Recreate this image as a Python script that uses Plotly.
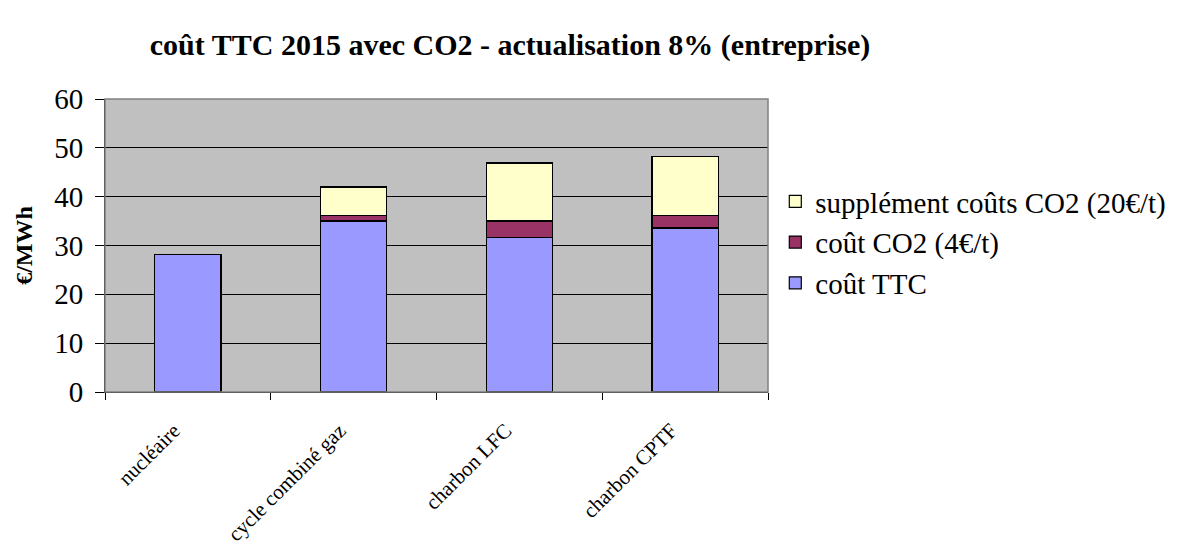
import plotly.graph_objects as go

categories = ["nucléaire", "cycle combiné gaz", "charbon LFC", "charbon CPTF"]
cout_ttc = [28.2, 35.0, 31.7, 33.6]
cout_co2 = [0.0, 1.2, 3.3, 2.6]
supplement_co2 = [0.0, 5.8, 11.9, 12.0]
y_ticks = [0, 10, 20, 30, 40, 50, 60]

series = [
    ("coût TTC", cout_ttc, "#9999FF", 3),
    ("coût CO2 (4€/t)", cout_co2, "#993366", 2),
    ("supplément coûts CO2 (20€/t)", supplement_co2, "#FFFFCC", 1),
]

fig = go.Figure()
for name, vals, color, rank in series:
    fig.add_trace(go.Bar(
        x=categories, y=vals, name=name, legendrank=rank,
        marker=dict(color=color, line=dict(color="black", width=1.2)),
    ))

font_family = "Liberation Serif, Times New Roman, serif"
fig.update_layout(
    barmode="stack",
    bargap=0.6,
    width=1201, height=550,
    paper_bgcolor="white",
    plot_bgcolor="#C0C0C0",
    margin=dict(l=97, r=441, t=91, b=166, autoexpand=False),
    font=dict(family=font_family, color="black"),
    title=dict(
        text="<b>coût TTC 2015 avec CO2 - actualisation 8% (entreprise)</b>",
        x=502 / 1201, xanchor="center", y=1 - 36 / 550, yanchor="middle",
        font=dict(size=30, family=font_family, color="black"),
    ),
    legend=dict(
        x=1.011, xanchor="left", y=0.51, yanchor="middle",
        font=dict(size=29, family=font_family, color="black"),
        traceorder="normal",
        bgcolor="rgba(0,0,0,0)",
    ),
    showlegend=True,
)
fig.update_yaxes(
    range=[0, 60], tickvals=y_ticks, ticktext=[str(v) for v in y_ticks],
    showgrid=True, gridcolor="black", gridwidth=1,
    showline=True, linecolor="black", linewidth=1,
    ticks="outside", ticklen=9, tickcolor="black",
    ticklabelstandoff=6,
    tickfont=dict(size=29, family=font_family),
    title=dict(text="<b>€/MWh</b>", font=dict(size=24, family=font_family), standoff=14),
    zeroline=False, automargin=False,
)
fig.update_xaxes(
    showline=True, linecolor="black", linewidth=1,
    ticks="outside", tickson="boundaries", ticklen=7, tickcolor="black",
    tickangle=-45, tickfont=dict(size=21, family=font_family),
    ticklabelshift=-14, ticklabelstandoff=17,
    showgrid=False, automargin=False,
)
# gray border on top/right of the plot area
fig.add_shape(type="rect", xref="paper", yref="paper", x0=0, y0=0, x1=1, y1=1,
              line=dict(color="#808080", width=1.5), fillcolor="rgba(0,0,0,0)", layer="above")
fig.write_html("out.html")
